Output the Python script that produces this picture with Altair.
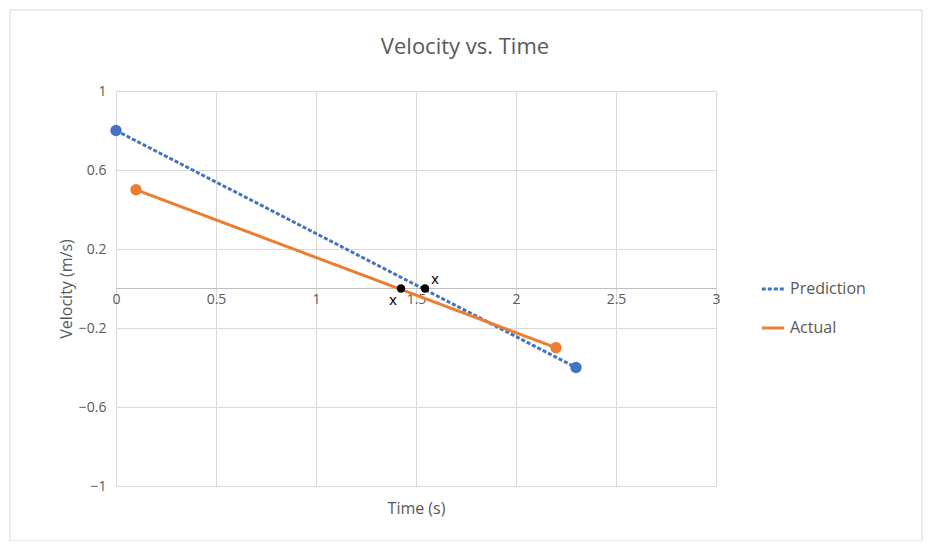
import altair as alt
import pandas as pd

# series endpoints
pred_t = [0.0, 2.3]
pred_v = [0.8, -0.4]
act_t = [0.1, 2.2]
act_v = [0.5, -0.3]
# zero crossings marked in black
cross_t = [1.425, 1.545]
cross_v = [0.0, 0.0]
cross_lbl = ["x", "x"]

lines = pd.DataFrame({
    "t": pred_t + act_t,
    "v": pred_v + act_v,
    "series": ["Prediction"] * 2 + ["Actual"] * 2,
})
cross = pd.DataFrame({"t": cross_t, "v": cross_v, "lbl": cross_lbl})

grey = "#595959"
xs = alt.Scale(domain=[0, 3], nice=False)
ys = alt.Scale(domain=[-1, 1], nice=False)

base = alt.Chart(lines).encode(
    x=alt.X("t:Q", scale=xs, title="Time (s)",
            axis=alt.Axis(values=[0, 0.5, 1, 1.5, 2, 2.5, 3], offset=-197.5,
                          domain=False, ticks=False, labelPadding=4,
                          labelFlush=False, labelOverlap=False, titleY=212,
                          format="~g")),
    y=alt.Y("v:Q", scale=ys, title="Velocity (m/s)",
            axis=alt.Axis(values=[-1, -0.8, -0.6, -0.4, -0.2, 0, 0.2, 0.4, 0.6, 0.8, 1],
                          domain=False, ticks=False, labelPadding=10,
                          labelOverlap=False, format="~g")),
    color=alt.Color("series:N", title=None,
                    scale=alt.Scale(domain=["Prediction", "Actual"],
                                    range=["#4472c4", "#ed7d31"]),
                    legend=alt.Legend(orient="none", legendX=644, legendY=185,
                                      symbolType="stroke", symbolSize=500,
                                      symbolStrokeWidth=3, rowPadding=18,
                                      labelFontSize=16, labelColor=grey)),
    strokeDash=alt.StrokeDash("series:N",
                              scale=alt.Scale(domain=["Prediction", "Actual"],
                                              range=[[4, 2], [1, 0]]),
                              legend=None),
)

line_layer = base.mark_line(strokeWidth=3)
pt_layer = base.mark_circle(size=130, opacity=1)

zero = alt.Chart(pd.DataFrame({"v": [0]})).mark_rule(color="#bfbfbf").encode(
    y=alt.Y("v:Q", scale=ys))

cross_pts = alt.Chart(cross).mark_point(filled=True, color="black", size=70,
                                        opacity=1).encode(
    x=alt.X("t:Q", scale=xs), y=alt.Y("v:Q", scale=ys))
txt_a = alt.Chart(cross.iloc[[0]]).mark_text(fontSize=15, color="black", dx=-8, dy=11).encode(
    x=alt.X("t:Q", scale=xs), y=alt.Y("v:Q", scale=ys), text="lbl:N")
txt_b = alt.Chart(cross.iloc[[1]]).mark_text(fontSize=15, color="black", dx=10, dy=-10).encode(
    x=alt.X("t:Q", scale=xs), y=alt.Y("v:Q", scale=ys), text="lbl:N")

title = alt.Chart(pd.DataFrame({"s": ["Velocity vs. Time"]})).mark_text(
    fontSize=22, color=grey, font="Open Sans").encode(
    x=alt.value(349), y=alt.value(-44), text="s:N")

frame = alt.Chart(pd.DataFrame({"a": [0]})).mark_rect(
    fill=None, stroke="#d9d9d9", strokeWidth=1).encode(
    x=alt.value(-106), x2=alt.value(806), y=alt.value(-81), y2=alt.value(450))

chart = alt.layer(frame, zero, line_layer, pt_layer, cross_pts, txt_a, txt_b, title).properties(
    width=600, height=395,
    autosize="none",
    padding={"left": 108, "top": 83, "right": 210, "bottom": 55},
).configure_view(stroke=None).configure_axis(
    gridColor="#d9d9d9", labelColor=grey, labelFontSize=14, titleColor=grey,
    titleFontSize=16, titleFontWeight="normal", labelFont="Open Sans",
    titleFont="Open Sans").configure_legend(labelFont="Open Sans")

chart.save("out.html", embed_options={"renderer": "svg", "actions": False})
